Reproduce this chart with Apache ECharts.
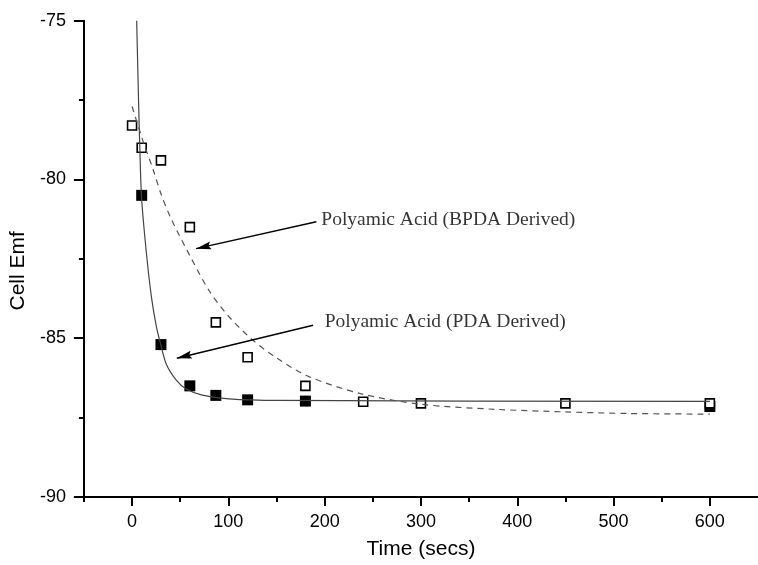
<!DOCTYPE html>
<html>
<head>
<meta charset="utf-8">
<script src="https://cdn.jsdelivr.net/npm/echarts@6/dist/echarts.min.js"></script>
<style>
  html, body { margin: 0; padding: 0; background: #fff; }
  #main { width: 758px; height: 565px; }
</style>
</head>
<body>
<div id="main"></div>
<script>
// tick positions
const xMajorTicks = [0, 100, 200, 300, 400, 500, 600]
const xMinorTicks = [-50, 50, 150, 250, 350, 450, 550]

// measured points: BPDA derived (open squares)
const timeBpda = [0, 10, 30, 60, 87, 120, 180, 240, 300, 450, 600]
const emfBpda = [-78.3, -79.0, -79.4, -81.5, -84.5, -85.6, -86.5, -87.0, -87.05, -87.05, -87.05]

// measured points: PDA derived (filled squares)
const timePda = [10, 30, 60, 87, 120, 180, 600]
const emfPda = [-80.5, -85.2, -86.5, -86.8, -86.94, -86.98, -87.15]

// fitted curves
const fitPdaX = [4.8, 6.7, 8.1, 9.9, 15.1, 20.2, 25.4, 29.5, 35.6, 45.9, 56.2, 72.9, 100.6, 152, 600]
const fitPdaY = [-75.0, -77.48, -79.04, -80.59, -82.38, -83.72, -84.66, -85.16, -85.82, -86.32, -86.6, -86.79, -86.91, -86.96, -86.99]
const fitBpdaX = [0, 12, 22, 30, 40, 60, 80, 100, 125, 150, 183, 238, 300, 378, 450, 515, 600]
const fitBpdaY = [-77.7, -78.85, -79.7, -80.45, -81.2, -82.4, -83.5, -84.3, -85.05, -85.62, -86.2, -86.75, -87.08, -87.24, -87.32, -87.37, -87.39]

// annotations
const noteTexts = ['Polyamic Acid (BPDA Derived)', 'Polyamic Acid (PDA Derived)']
const noteAt = [[196.5, -81.28], [200, -84.5]]
const arrowFrom = [[191.4, -81.33], [188.0, -84.59]]
const arrowTo = [[66.5, -82.18], [46.5, -85.63]]

const zip = (xs, ys) => xs.map((x, i) => [x, ys[i]])

const chart = echarts.init(document.getElementById('main'))

const axisLineStyle = { color: '#000', width: 2 }
const headSize = [8, 15]

const option = {
  animation: false,
  textStyle: { fontFamily: 'Liberation Sans' },
  grid: { left: 83, right: -7, top: 20.7, bottom: 64 },
  xAxis: [
    {
      type: 'value',
      min: -50,
      max: 650,
      name: 'Time (secs)',
      nameLocation: 'middle',
      nameGap: 42,
      nameTextStyle: { fontSize: 21, color: '#000' },
      axisLine: { onZero: false, lineStyle: axisLineStyle },
      axisTick: { customValues: xMajorTicks, length: 9, lineStyle: axisLineStyle },
      axisLabel: { customValues: xMajorTicks, fontSize: 18, color: '#000', margin: 16 },
      splitLine: { show: false }
    },
    {
      type: 'value',
      min: -50,
      max: 650,
      position: 'bottom',
      axisLine: { show: false, onZero: false },
      axisTick: { customValues: xMinorTicks, length: 5, lineStyle: axisLineStyle },
      axisLabel: { show: false },
      splitLine: { show: false }
    }
  ],
  yAxis: {
    type: 'value',
    min: -90,
    max: -75,
    interval: 5,
    name: 'Cell Emf',
    nameLocation: 'middle',
    nameGap: 44,
    nameTextStyle: { fontSize: 21, color: '#000', padding: [0, 24, 0, 0] },
    axisLine: { onZero: false, lineStyle: axisLineStyle },
    axisTick: { length: 10, lineStyle: axisLineStyle },
    minorTick: { show: true, splitNumber: 2, length: 5, lineStyle: axisLineStyle },
    axisLabel: { fontSize: 18, color: '#000', margin: 18 },
    splitLine: { show: false }
  },
  series: [
    {
      name: 'PDA fit',
      type: 'line',
      data: zip(fitPdaX, fitPdaY),
      showSymbol: false,
      smooth: 0.3,
      lineStyle: { color: '#444', width: 1.2 },
      silent: true,
      markLine: {
        silent: true,
        symbol: ['none', 'none'],
        label: { show: false },
        lineStyle: { color: '#000', width: 1.4, type: 'solid' },
        emphasis: { disabled: true },
        data: arrowFrom.map((p, i) => [{ coord: p }, { coord: arrowTo[i] }])
      }
    },
    {
      name: 'BPDA fit',
      type: 'line',
      data: zip(fitBpdaX, fitBpdaY),
      showSymbol: false,
      smooth: 0.3,
      lineStyle: { color: '#555', width: 1.2, type: [6, 5] },
      silent: true
    },
    {
      name: 'PDA',
      type: 'scatter',
      data: zip(timePda, emfPda),
      symbol: 'rect',
      symbolSize: 11,
      itemStyle: { color: '#000', opacity: 1 },
      silent: true
    },
    {
      name: 'BPDA',
      type: 'scatter',
      data: zip(timeBpda, emfBpda),
      symbol: 'rect',
      symbolSize: 9,
      itemStyle: { color: '#fff', borderColor: '#000', borderWidth: 1.6, opacity: 1 },
      silent: true
    },
    {
      name: 'notes',
      type: 'scatter',
      data: noteAt.map((p, i) => ({ value: p, name: noteTexts[i] })),
      symbolSize: 0,
      silent: true,
      label: {
        show: true,
        position: 'right',
        distance: 0,
        formatter: '{b}',
        fontFamily: 'Liberation Serif',
        fontSize: 19.5,
        color: '#000'
      }
    },
    {
      name: 'arrowheads',
      type: 'scatter',
      data: [],
      symbol: 'path://M0,0 L5,13 L0,11 L-5,13 Z',
      symbolSize: headSize,
      itemStyle: { color: '#000', opacity: 1 },
      silent: true
    }
  ]
}

chart.setOption(option)

// point the heads along each arrow, tip on the target point
const heads = arrowTo.map((to, i) => {
  const a = chart.convertToPixel({ gridIndex: 0 }, arrowFrom[i])
  const b = chart.convertToPixel({ gridIndex: 0 }, to)
  const dx = b[0] - a[0]
  const dy = b[1] - a[1]
  const len = Math.hypot(dx, dy)
  const ux = dx / len
  const uy = dy / len
  return {
    value: to,
    symbolRotate: Math.atan2(-dx, -dy) * 180 / Math.PI,
    symbolOffset: [-ux * headSize[1] / 2, -uy * headSize[1] / 2]
  }
})
chart.setOption({ series: [{}, {}, {}, {}, {}, { data: heads }] })
</script>
</body>
</html>
